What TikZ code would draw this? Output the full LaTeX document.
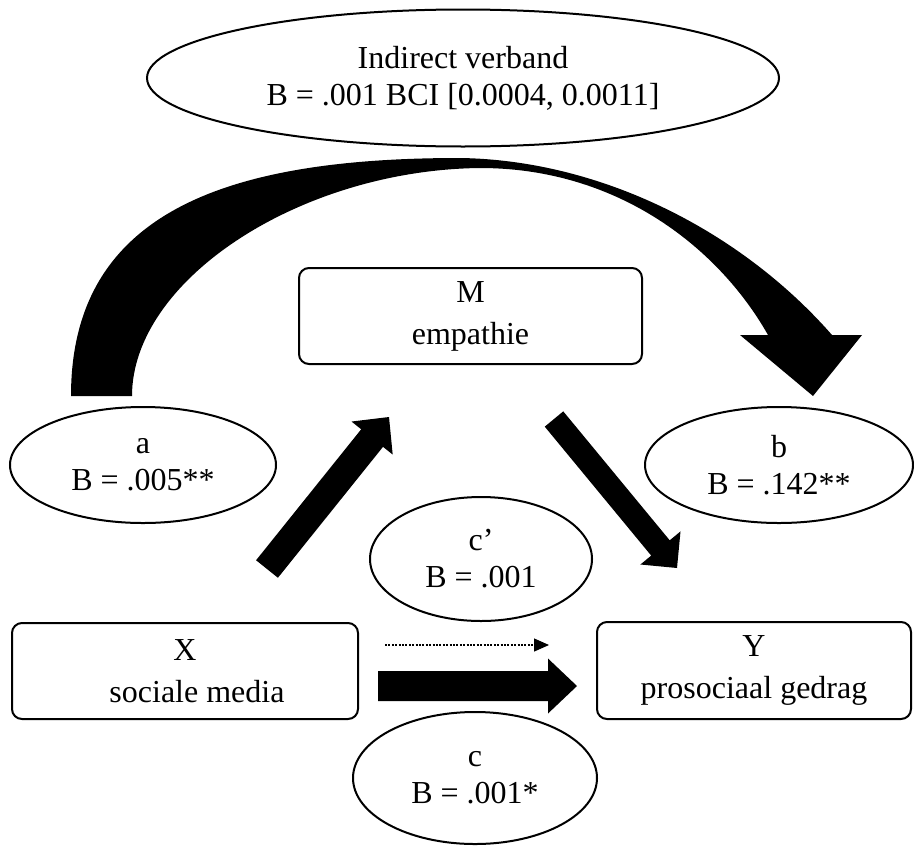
\documentclass[tikz,border=0pt]{standalone}
\usepackage{fontspec}
\setmainfont{Liberation Serif}
\usetikzlibrary{shapes.geometric,arrows.meta,calc}
% block arrow: start, tip, shaft half-width, head half-width, head length
\newcommand\blkarrow[5]{%
  \coordinate (tmpH) at ($(#2)!#5!(#1)$);
  \fill ($(#1)!#3!90:(#2)$) -- ($(tmpH)!#3!90:(#2)$) -- ($(tmpH)!#4!90:(#2)$) -- (#2)
     -- ($(tmpH)!#4!-90:(#2)$) -- ($(tmpH)!#3!-90:(#2)$) -- ($(#1)!#3!-90:(#2)$) -- cycle;}
\begin{document}
\begin{tikzpicture}[x=0.5pt,y=-0.5pt,
  ell/.style={draw,line width=1pt,ellipse,inner sep=0pt,align=center,font=\fontsize{16}{18.5}\selectfont},
  rbox/.style={draw,line width=1pt,rounded corners=5pt,rectangle,inner sep=0pt,align=center,font=\fontsize{16}{21}\selectfont},
  dotarrow/.style={line width=0.6pt,dash pattern=on 1pt off 0.7pt,-{Triangle[length=7.5pt,width=6.5pt]}}
]
\useasboundingbox (0,0) rectangle (914,846);

% nodes
\node[ell,minimum width=316pt,minimum height=68.5pt] (ind) at (463,78) {Indirect verband\\B = .001 BCI [0.0004, 0.0011]};
\node[ell,minimum width=133pt,minimum height=58pt] (a) at (143,465) {a\\B = .005**};
\node[ell,minimum width=134pt,minimum height=58pt] (b) at (779,465) {b\\B = .142**};
\node[ell,minimum width=111pt,minimum height=62pt] (cp) at (481,559) {c’\\B = .001};
\node[ell,minimum width=122pt,minimum height=66pt] (c) at (475,778) {c\\B = .001*};
\node[rbox,minimum width=171.5pt,minimum height=48pt] (M) at (470.5,316) {M\\empathie};
\node[rbox,minimum width=173pt,minimum height=48pt] (X) at (185,671) {X\\\hspace*{12pt}sociale media};
\node[rbox,minimum width=157pt,minimum height=48.5pt] (Y) at (754,670.5) {Y\\prosociaal gedrag};

% connector end points
\coordinate (aS) at (267,569); \coordinate (aT) at (389,417);
\coordinate (bS) at (554,419); \coordinate (bT) at (677,568);
\coordinate (dS) at (385,645); \coordinate (dT) at (549,645);
\coordinate (cS) at (378,686); \coordinate (cT) at (577,686);
\coordinate (arcL) at (71,396); \coordinate (arcLi) at (132,396);
\coordinate (arcTip) at (813,396);

% straight block arrows
\blkarrow{aS}{aT}{7pt}{13.2pt}{13.5pt}
\blkarrow{bS}{bT}{6pt}{13pt}{13pt}
\blkarrow{cS}{cT}{7.5pt}{13.75pt}{14.5pt}
\draw[dotarrow] (dS) -- (dT);

% curved indirect arrow (narrow at the top, wide at the ends)
\fill (arcL) .. controls (71,210) and (230,158) .. (460,158)
  .. controls (600,160) and (740,230) .. (832,335)
  -- (862,335) -- (arcTip) -- (740,335) -- (768,335)
  .. controls (720,250) and (620,168) .. (480,168)
  .. controls (300,170) and (132,280) .. (arcLi) -- cycle;
\end{tikzpicture}
\end{document}
